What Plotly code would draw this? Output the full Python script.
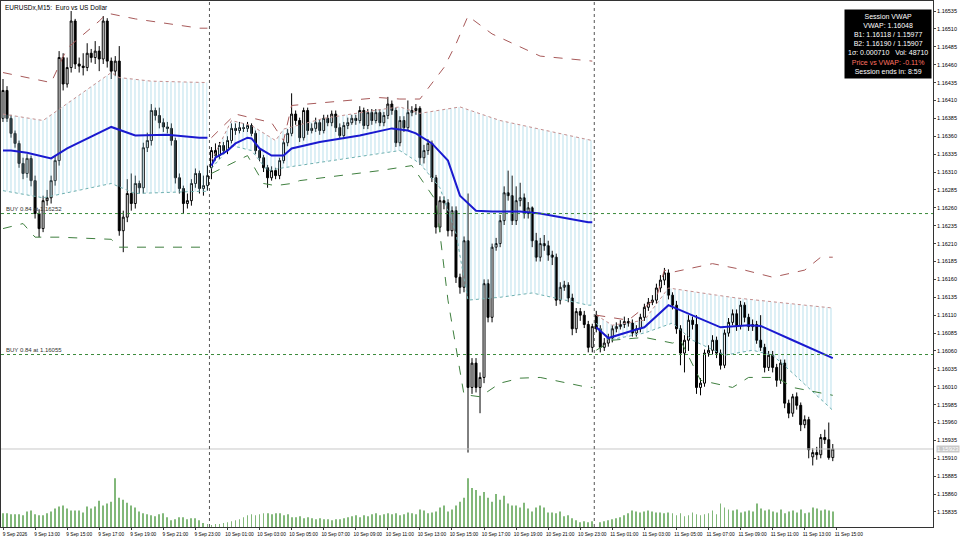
import plotly.graph_objects as go

BASE = 1.16000  # price levels below are in points (1e-5) relative to 1.16000

# ---------- candles (points rel. 1.16000) ----------
open_s1 = [385,424,385,364,350,322,308,329,298,252,231,270,274,298,326,470,433,456,521,461,458,456,476,470,479,468,
           521,465,451,465,228,247,280,266,294,288,344,354,396,389,379,373,371,354,302,287,266,270,294,308,287,291]
close_s1 = [424,385,364,350,322,308,329,298,252,231,270,274,298,326,470,433,456,521,461,458,456,476,470,479,468,521,
            465,451,465,228,247,280,266,294,288,344,354,396,389,379,373,371,354,302,287,266,270,294,308,287,291,305]
high_s1 = [440,430,390,368,354,330,335,333,305,258,277,285,305,333,479,476,470,535,524,470,476,490,482,493,486,528,
           525,470,472,486,256,300,308,305,298,351,365,405,400,400,385,380,378,358,308,291,280,300,315,312,305,319]
low_s1 = [380,380,358,344,316,300,302,290,245,219,226,263,266,291,319,424,428,449,454,449,445,451,463,461,451,461,
          456,440,444,221,198,240,256,259,280,280,338,347,382,371,366,364,347,294,280,252,259,263,288,280,277,284]

open_s2 = [316,340,333,347,340,354,371,368,372,371,375,364,340,330,316,302,312,305,326,351,364,391,382,358,396,368,
           371,379,368,385,379,391,372,361,375,379,385,382,396,375,393,382,393,379,389,405,396,351,382,372,393,396,
           399,330,340,350,302,233,270,267,228,256,163,149,214,9,43,9,23,154,107,205,210,242,281,277,242,270,274,252,
           260,214,191,210,207,194,191,131,149,152,134,91,115,110,97,65]
close_s2 = [340,333,347,340,354,371,368,372,371,375,364,340,330,316,302,312,305,326,351,364,391,382,358,396,368,371,
            379,368,385,379,391,372,361,375,379,385,382,396,375,393,382,393,379,389,405,396,351,382,372,393,396,399,
            330,340,350,302,233,270,267,228,256,163,149,214,9,43,9,23,154,107,205,210,242,281,277,242,270,274,252,260,
            214,191,210,207,194,191,131,149,152,134,91,115,110,97,65,94]
high_s2 = [345,350,352,352,360,378,378,380,378,380,378,368,344,334,320,318,316,330,356,370,420,396,386,400,400,378,
           386,384,390,390,396,396,378,380,386,390,390,402,400,398,398,398,398,394,415,410,400,388,388,410,402,405,
           402,348,356,354,306,276,276,272,262,262,168,220,280,50,50,30,160,160,210,218,250,290,312,305,290,295,280,
           268,262,225,218,222,214,200,196,156,158,156,140,120,120,116,102,98]
low_s2 = [300,326,328,336,335,350,362,364,366,366,360,335,325,310,288,298,300,300,322,346,360,376,352,354,362,364,
          366,362,364,374,374,366,356,356,370,376,376,378,370,370,376,378,374,374,384,390,345,346,366,368,388,390,
          320,322,334,296,224,226,258,220,220,155,140,142,-82,0,2,-27,15,100,100,200,205,236,270,236,236,262,245,
          245,205,185,185,200,186,180,123,125,144,128,82,85,102,92,58,58]

open_s3 = [110,91,65,71,78,91,94,97,101,99,85,91,107,121,128,131,148,159,169,138,124,91,57,75,103,97,9,15,57,61,
           75,57,40,85,100,112,95,124,107,94,97,75,65,37,54,37,19,43,-13,-27,-4,-16,-43,-36,-88,-82,-85,-61,-64,-89]
close_s3 = [91,65,71,78,91,94,97,101,99,85,91,107,121,128,131,148,159,169,138,124,91,57,75,103,97,9,15,57,61,75,
            57,40,85,100,112,95,124,107,94,97,75,65,37,54,37,19,43,-13,-27,-4,-16,-43,-36,-78,-82,-85,-61,-64,-89,-77]
high_s3 = [116,96,78,84,96,100,103,108,106,104,96,112,126,134,138,154,166,176,174,142,130,96,82,110,108,110,22,62,
           68,82,80,62,90,106,118,118,130,128,112,104,102,110,70,60,60,42,48,48,-8,0,2,-12,-30,-32,-76,-74,-56,-50,-40,-70]
low_s3 = [86,58,60,66,72,86,90,92,94,80,80,86,102,116,124,126,142,152,132,118,84,40,30,60,90,0,-2,10,52,55,50,34,
          36,80,96,88,90,100,88,88,70,60,30,32,30,10,14,-20,-34,-32,-22,-52,-48,-90,-100,-92,-90,-70,-92,-94]

# ---------- tick volume (per bar) ----------
vol_s1 = [14,14,13,13,13,12,16,17,13,12,12,14,16,19,21,22,19,17,17,17,15,21,19,21,27,22,24,26,50,30,
          28,25,22,20,16,14,13,12,11,13,14,10,7,8,10,10,8,9,9,7,4,3]
vol_s2 = [2,3,3,4,5,6,7,8,10,12,13,12,13,14,14,13,14,14,12,13,10,10,11,9,10,9,8,9,8,8,7,8,8,9,10,11,12,10,12,11,
          13,14,12,13,14,13,14,12,13,15,14,13,18,17,14,15,16,20,22,16,18,22,26,30,50,40,38,32,36,30,26,34,28,32,24,
          22,22,20,25,19,16,20,22,20,15,15,14,16,11,12,9,7,5,6,5,6]
vol_s3 = [0,5,6,7,8,9,10,12,14,17,16,15,16,17,16,15,15,14,15,14,12,14,11,12,15,13,12,13,14,17,13,24,20,18,17,18,
          15,16,17,16,24,19,17,18,16,15,18,14,16,17,15,18,14,15,20,19,17,18,17,16]

# ---------- session VWAP & bands: (bar index, points) ----------
vwap_idx = [[0,2,6,12,16,20,27,33,41,49,51],
            [52,53,56,58,61,62,64,67,70,72,79,89,97,101,103,107,111,114,118,122,129,134,146,147],
            [148,151,158,160,166,172,179,186,189,197,207]]
vwap_pts = [[340,340,337,329,343,354,373,361,362,358,358],
            [319,330,340,350,358,357,343,333,333,343,352,361,371,368,364,350,326,277,256,255,255,252,240,240],
            [93,78,90,93,124,110,93,96,95,75,50]]
b1u_idx = [[0,10,27,29,37,49,51], [52,57,62,68,70,80,95,99,104,114,124,147], [148,152,160,166,178,183,200,207]]
b1u_pts = [[391,382,449,442,437,435,435], [326,382,375,354,370,385,398,401,392,401,382,354], [110,96,103,148,138,134,124,120]]
b1l_idx = [[0,10,27,33,49,51], [52,57,62,66,70,99,104,109,113,116,124,132,146,147], [148,151,160,167,172,180,187,192,197,207]]
b1l_pts = [[284,274,294,280,283,283], [315,347,340,312,316,340,322,288,224,131,135,141,124,124], [99,75,85,99,75,54,61,54,29,-23]]
b2u_idx = [[0,12,16,24,26,33,49,51], [52,58,67,70,72,94,99,104,110,113,116,122,134,146,147],
           [148,156,163,165,167,177,185,192,200,204,207]]
b2u_pts = [[449,435,483,521,532,524,511,511], [358,391,379,354,403,414,412,412,456,489,528,503,472,465,465],
           [110,103,134,173,170,182,173,163,173,191,191]]
b2l_idx = [[0,5,8,14,27,29,37,49,51], [52,56,61,65,68,72,74,94,102,108,111,115,119,124,129,134,146,147],
           [148,152,160,167,169,174,182,186,193,197,207]]
b2l_pts = [[231,238,219,219,216,205,205,205,205], [308,319,333,294,291,294,298,312,319,270,131,-1,-4,15,22,23,9,9],
           [61,75,79,71,75,19,9,23,23,9,-2]]

tick_text = ["9 Sep 2026", "9 Sep 13:00", "9 Sep 15:00", "9 Sep 17:00", "9 Sep 19:00", "9 Sep 21:00", "9 Sep 23:00",
             "10 Sep 01:00", "10 Sep 03:00", "10 Sep 05:00", "10 Sep 07:00", "10 Sep 09:00", "10 Sep 11:00",
             "10 Sep 13:00", "10 Sep 15:00", "10 Sep 17:00", "10 Sep 19:00", "10 Sep 21:00", "10 Sep 23:00",
             "11 Sep 01:00", "11 Sep 03:00", "11 Sep 05:00", "11 Sep 07:00", "11 Sep 09:00", "11 Sep 11:00",
             "11 Sep 13:00", "11 Sep 15:00"]
price_tick_text = ["1.15835", "1.15860", "1.15885", "1.15910", "1.15935", "1.15960", "1.15985", "1.16010",
                   "1.16035", "1.16060", "1.16085", "1.16110", "1.16135", "1.16160", "1.16185", "1.16210",
                   "1.16235", "1.16260", "1.16285", "1.16310", "1.16335", "1.16360", "1.16385", "1.16410",
                   "1.16435", "1.16460", "1.16485", "1.16510", "1.16535"]
buy_levels = [1.16252, 1.16055]
bid = 1.15923
session_breaks = [51.5, 147.5]

def px(lst):
    return [BASE + v / 1e5 for v in lst]

O = px(open_s1 + open_s2 + open_s3)
C = px(close_s1 + close_s2 + close_s3)
H = px(high_s1 + high_s2 + high_s3)
L = px(low_s1 + low_s2 + low_s3)
V = vol_s1 + vol_s2 + vol_s3
X = list(range(len(C)))

fig = go.Figure()
fig.add_trace(go.Bar(x=X, y=V, yaxis="y2", width=0.22, marker=dict(color="#82b87a", line=dict(width=0)),
                     hoverinfo="skip"))

for s in range(3):
    fig.add_trace(go.Scatter(x=b1l_idx[s], y=px(b1l_pts[s]), mode="lines",
                             line=dict(color="#6fb0b0", width=1, dash="dot")))
    fig.add_trace(go.Scatter(x=b1u_idx[s], y=px(b1u_pts[s]), mode="lines", fill="tonexty",
                             fillcolor="rgba(255,255,255,0)",
                             fillpattern=dict(shape="|", fgcolor="#8ccbe0", bgcolor="rgba(255,255,255,0)",
                                              size=4, solidity=0.3),
                             line=dict(color="#c49090", width=1, dash="dot")))
    fig.add_trace(go.Scatter(x=b2u_idx[s], y=px(b2u_pts[s]), mode="lines",
                             line=dict(color="#a85a5a", width=1, dash="dash")))
    fig.add_trace(go.Scatter(x=b2l_idx[s], y=px(b2l_pts[s]), mode="lines",
                             line=dict(color="#3f7f3f", width=1, dash="dash")))

fig.add_trace(go.Candlestick(x=X, open=O, high=H, low=L, close=C, whiskerwidth=0,
                             increasing=dict(fillcolor="white", line=dict(color="black", width=1)),
                             decreasing=dict(fillcolor="black", line=dict(color="black", width=1))))

for s in range(3):
    fig.add_trace(go.Scatter(x=vwap_idx[s], y=px(vwap_pts[s]), mode="lines", line=dict(color="#1a1ad0", width=2)))

shapes = []
for lv in buy_levels:
    shapes.append(dict(type="line", xref="paper", x0=0, x1=1, y0=lv, y1=lv, yref="y",
                       line=dict(color="#3a8a3a", width=1, dash="dot")))
shapes.append(dict(type="line", xref="paper", x0=0, x1=1, y0=bid, y1=bid, yref="y",
                   line=dict(color="#c8c8c8", width=1)))
for b in session_breaks:
    shapes.append(dict(type="line", x0=b, x1=b, yref="paper", y0=0, y1=1,
                       line=dict(color="#555555", width=1, dash="dot")))

F = "Liberation Sans Narrow, Liberation Sans"
ann = [
    dict(xref="paper", yref="paper", x=0, y=1, xanchor="left", yanchor="top", xshift=2, yshift=-1,
         text="EURUSDx,M15:  Euro vs US Dollar", showarrow=False, font=dict(family=F, size=6.5, color="black")),
    dict(xref="paper", yref="y", x=0, y=buy_levels[0], xanchor="left", yanchor="bottom", xshift=3,
         text="BUY 0.84 at 1.16252", showarrow=False, font=dict(family=F, size=6, color="#333")),
    dict(xref="paper", yref="y", x=0, y=buy_levels[1], xanchor="left", yanchor="bottom", xshift=3,
         text="BUY 0.84 at 1.16055", showarrow=False, font=dict(family=F, size=6, color="#333")),
    dict(xref="paper", yref="y", x=1, y=bid, xanchor="left", yanchor="middle", xshift=3,
         text="1.15923", showarrow=False, bgcolor="#c8c8c8", font=dict(family=F, size=6, color="white"),
         borderpad=0),
    dict(xref="paper", yref="paper", x=1, y=1, xanchor="right", yanchor="top", xshift=-1, yshift=-8,
         text=("Session VWAP<br>VWAP: 1.16048<br>B1: 1.16118 / 1.15977<br>B2: 1.16190 / 1.15907<br>"
               "1σ: 0.000710   Vol: 48710<br><span style='color:#ff7060'>Price vs VWAP: -0.11%</span><br>"
               "Session ends in: 8:59"),
         showarrow=False, align="center", bgcolor="black", borderpad=3,
         font=dict(family="Liberation Sans", size=7, color="white")),
]

fig.update_layout(
    width=960, height=540, margin=dict(l=1, r=27, t=1, b=13, autoexpand=False),
    paper_bgcolor="white", plot_bgcolor="white", showlegend=False,
    shapes=shapes, annotations=ann,
    xaxis=dict(range=[-0.5, 232], tickvals=[8 * k for k in range(len(tick_text))], ticktext=tick_text,
               tickangle=0, automargin=False,
               ticks="outside", ticklen=2, tickfont=dict(family=F, size=4.8, color="black"),
               ticklabelshift=12, showgrid=False, zeroline=False, showline=True, linecolor="#333", mirror=True,
               rangeslider=dict(visible=False), fixedrange=True),
    yaxis=dict(range=[1.15814, 1.16549], side="right", automargin=False,
               tickvals=[float(t) for t in price_tick_text], ticktext=price_tick_text,
               ticks="outside", ticklen=2, tickfont=dict(family=F, size=5.5, color="black"),
               showgrid=False, zeroline=False, showline=True, linecolor="#333", mirror=True),
    yaxis2=dict(range=[0, 540], overlaying="y", visible=False),
)
fig.write_html("out.html", config=dict(displayModeBar=False),
               post_script="document.body.style.margin='0';document.body.style.overflow='hidden';")
